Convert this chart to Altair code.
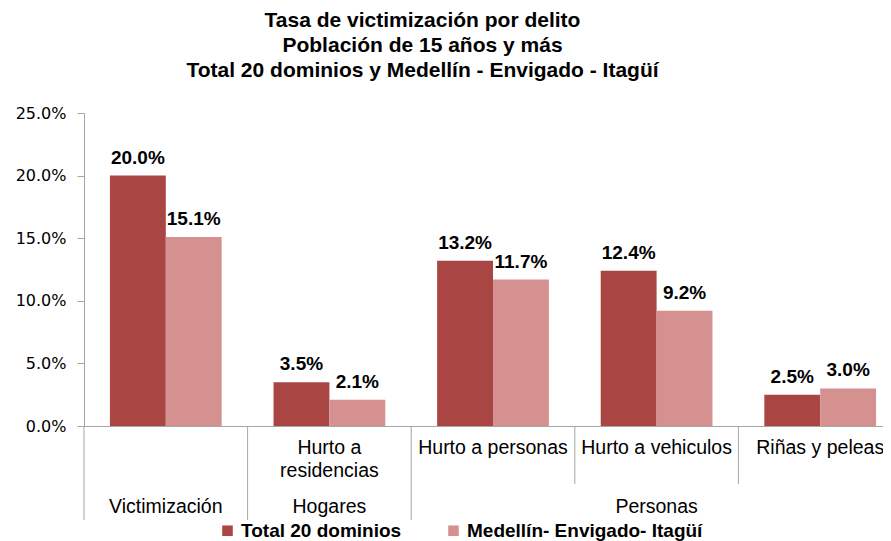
import altair as alt
import pandas as pd

# ---------------- data ----------------
categorias = ["Victimización", "Hurto a residencias", "Hurto a personas",
              "Hurto a vehiculos", "Riñas y peleas"]
etiquetas = ["", "Hurto a\nresidencias", "Hurto a personas",
             "Hurto a vehiculos", "Riñas y peleas"]
grupos = ["Victimización", "Hogares", "Personas", "Personas", "Personas"]
series = ["Total 20 dominios", "Medellín- Envigado- Itagüí"]
total_20 = [0.200, 0.035, 0.132, 0.124, 0.025]
medellin = [0.151, 0.021, 0.117, 0.092, 0.030]
y_ticks = [0.0, 0.05, 0.10, 0.15, 0.20, 0.25]
colores = ["#A94643", "#D4918F"]

# ---------------- tables ----------------
rows = []
for c, a, b in zip(categorias, total_20, medellin):
    rows.append({"Categoria": c, "Serie": series[0], "Valor": a})
    rows.append({"Categoria": c, "Serie": series[1], "Valor": b})
bars_df = pd.DataFrame(rows)

lab_df = pd.DataFrame({"Categoria": categorias, "Etiqueta": etiquetas})

sep_rows = []
for i, c in enumerate(categorias):
    largo = i == 0 or grupos[i] != grupos[i - 1]
    sep_rows.append({"Categoria": c, "Tipo": "largo" if largo else "corto"})
sep_df = pd.DataFrame(sep_rows)

grp_rows = []
vistos = []
for g in grupos:
    if g not in vistos:
        vistos.append(g)
for g in vistos:
    idx = [i for i, x in enumerate(grupos) if x == g]
    grp_rows.append({"Categoria": categorias[idx[len(idx) // 2]], "Grupo": g})
grp_df = pd.DataFrame(grp_rows)

# ---------------- encodings ----------------
PLOT_W, PLOT_H = 799, 313
GRAY = "#A6A6A6"

x_scale = alt.Scale(domain=categorias, range=[0, 818], paddingInner=0, paddingOuter=0)
x_axis = alt.Axis(labels=False, ticks=False, title=None, grid=False,
                  domainColor=GRAY, domainWidth=1)


def xenc(**kw):
    return alt.X("Categoria:N", sort=categorias, scale=x_scale, axis=x_axis, **kw)


y_enc = alt.Y("Valor:Q",
              scale=alt.Scale(domain=[0, 0.25], nice=False),
              axis=alt.Axis(values=y_ticks, format=".1%", title=None, grid=False,
                            domainColor=GRAY, tickColor=GRAY, tickSize=7,
                            labelFont="DejaVu Sans", labelFontSize=16,
                            labelColor="#000000", labelPadding=11))

xoff = alt.XOffset("Serie:N", sort=series,
                   scale=alt.Scale(domain=series, paddingInner=0, paddingOuter=0.464))

bars = alt.Chart(bars_df).mark_bar().encode(
    x=xenc(),
    xOffset=xoff,
    y=y_enc,
    color=alt.Color("Serie:N", sort=series,
                    scale=alt.Scale(domain=series, range=colores),
                    legend=alt.Legend(orient="none", legendX=134, legendY=408,
                                      direction="horizontal", title=None,
                                      symbolType="square", symbolSize=112,
                                      symbolStrokeWidth=0, labelFont="Liberation Sans",
                                      labelFontSize=19, labelFontWeight="bold",
                                      labelColor="#000000", labelLimit=400,
                                      labelOffset=4, columnPadding=42, padding=0)),
)

values = alt.Chart(bars_df).mark_text(
    font="Liberation Sans", fontSize=19, fontWeight="bold", color="#000000",
    baseline="alphabetic", dy=-12
).encode(
    x=xenc(),
    xOffset=xoff,
    y=y_enc,
    text=alt.Text("Valor:Q", format=".1%"),
)

sep_long = alt.Chart(sep_df).transform_filter("datum.Tipo == 'largo'").mark_rule(
    color=GRAY, strokeWidth=1
).encode(x=xenc(bandPosition=0), y=alt.value(PLOT_H), y2=alt.value(PLOT_H + 94))

sep_short = alt.Chart(sep_df).transform_filter("datum.Tipo == 'corto'").mark_rule(
    color=GRAY, strokeWidth=1
).encode(x=xenc(bandPosition=0), y=alt.value(PLOT_H), y2=alt.value(PLOT_H + 58))

cat_labels = alt.Chart(lab_df).mark_text(
    font="Liberation Sans", fontSize=19.5, color="#000000", baseline="top",
    lineBreak="\n", lineHeight=23, align="center"
).encode(x=xenc(), y=alt.value(PLOT_H + 13), text="Etiqueta:N")

grp_labels = alt.Chart(grp_df).mark_text(
    font="Liberation Sans", fontSize=19.5, color="#000000", baseline="top",
    align="center"
).encode(x=xenc(), y=alt.value(PLOT_H + 72), text="Grupo:N")

chart = alt.layer(sep_long, sep_short, bars, values, cat_labels, grp_labels).properties(
    width=PLOT_W,
    height=PLOT_H,
    title=alt.TitleParams(
        text=["Tasa de victimización por delito",
              "Población de 15 años y más",
              "Total 20 dominios y Medellín - Envigado - Itagüí"],
        font="Liberation Sans", fontSize=21, fontWeight="bold", color="#000000",
        lineHeight=25, anchor="middle", dx=-61, offset=7, baseline="alphabetic"),
    padding={"left": 76, "top": 105, "right": 0, "bottom": 115},
    autosize=alt.AutoSizeParams(type="none"),
).configure_view(stroke=None)

chart.save("out.html", embed_options={"renderer": "svg", "actions": False})
